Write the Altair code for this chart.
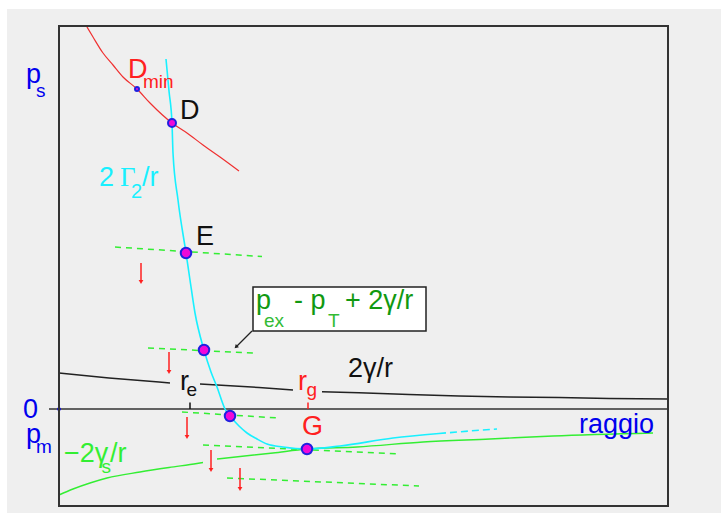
import altair as alt
import pandas as pd

# ---- scale extents (raggio on x, pressure on y; 0 = reference pressure) ----
R_MIN, R_MAX = 0.0, 6.09
P_MIN, P_MAX = -0.97, 3.83

# red curve through D_min and D
red_r = [0.28, 0.34, 0.44, 0.54, 0.64, 0.78, 0.91, 1.13, 1.28, 1.44, 1.61, 1.80]
red_p = [3.82, 3.72, 3.56, 3.44, 3.32, 3.20, 3.06, 2.86, 2.76, 2.64, 2.52, 2.38]

# cyan curve 2 Gamma_2 / r (solid part, then dashed tail)
cyan_r = [1.07, 1.10, 1.13, 1.14, 1.19, 1.27, 1.31, 1.36, 1.45, 1.52, 1.58, 1.66,
          1.71, 1.80, 1.88, 1.98, 2.08, 2.24, 2.48, 2.81, 3.34, 3.80]
cyan_p = [3.50, 3.18, 2.86, 2.56, 2.09, 1.56, 1.29, 0.96, 0.59, 0.37, 0.22, 0.00,
          -0.07, -0.17, -0.24, -0.30, -0.35, -0.38, -0.40, -0.37, -0.29, -0.245]
cyan_tail_r = [3.80, 4.10, 4.38]
cyan_tail_p = [-0.245, -0.22, -0.20]

# black curve 2 gamma / r, interrupted by the r_e and r_g labels
black_r = [0.00, 0.50, 1.00, 1.11, 1.41, 2.00, 2.34, 2.63, 3.00, 3.50, 4.00, 4.50, 5.00, 5.50, 6.09]
black_p = [0.36, 0.31, 0.27, 0.26, 0.25, 0.215, 0.19, 0.173, 0.162, 0.145, 0.13, 0.12, 0.115, 0.105, 0.10]
black_seg = [0, 0, 0, 0, 1, 1, 1, 2, 2, 2, 2, 2, 2, 2, 2]

# green curve -2 gamma_s / r
green_r = [0.00, 0.14, 0.31, 0.48, 0.81, 1.10, 1.38, 1.44,
           1.58, 2.14, 2.48, 2.98, 3.64, 4.31, 4.94, 5.94]
green_p = [-0.86, -0.80, -0.74, -0.69, -0.63, -0.585, -0.545, -0.535,
           -0.50, -0.44, -0.40, -0.38, -0.33, -0.30, -0.27, -0.24]
green_seg = [0, 0, 0, 0, 0, 0, 0, 0, 1, 1, 1, 1, 1, 1, 1, 1]

# dashed green levels p_ex - p_T + 2 gamma / r
lvl_r0 = [0.56, 0.89, 1.23, 1.44, 1.68]
lvl_p0 = [1.62, 0.61, -0.03, -0.36, -0.69]
lvl_r1 = [2.03, 1.94, 2.19, 3.41, 3.60]
lvl_p1 = [1.525, 0.56, -0.09, -0.45, -0.77]

# red downward arrows
arrow_r = [0.82, 1.10, 1.28, 1.52, 1.81]
arrow_top = [1.46, 0.57, -0.08, -0.41, -0.59]
arrow_bot = [1.24, 0.34, -0.31, -0.64, -0.83]

# marked states
pt_name = ["Dmin", "D", "E", "F", "zero", "G"]
pt_r = [0.78, 1.13, 1.27, 1.45, 1.71, 2.48]
pt_p = [3.20, 2.86, 1.56, 0.59, -0.07, -0.40]
pt_size = [16, 64, 110, 110, 110, 110]

# r_e and r_g ticks on the zero line
tick_r = [1.31, 2.49]
tick_color = ["#111111", "#ff2020"]

# zero line and annotation box
zero_r = [-0.10, 6.09]
box_r = [1.94, 3.67]
box_p = [1.22, 0.78]
pointer_r = [1.93, 1.77]
pointer_p = [0.78, 0.62]

# labels: text, r, p, colour, font size
sans_labels = [
    ("D", 0.69, 3.31, "#ff2020", 27), ("min", 0.84, 3.21, "#ff2020", 19),
    ("D", 1.21, 2.90, "#111111", 27),
    ("E", 1.37, 1.64, "#111111", 27),
    ("2", 0.40, 2.23, "#18f0ff", 27), ("2", 0.72, 2.11, "#18f0ff", 20),
    ("/r", 0.83, 2.23, "#18f0ff", 27),
    ("p", 1.97, 1.00, "#119911", 27), ("ex", 2.05, 0.82, "#33bb33", 19),
    ("- p", 2.35, 1.00, "#119911", 27), ("T", 2.69, 0.82, "#33bb33", 19),
    ("+ 2γ/r", 2.86, 1.00, "#119911", 27),
    ("2γ/r", 2.89, 0.32, "#111111", 27),
    ("r", 1.21, 0.19, "#111111", 27), ("e", 1.275, 0.13, "#111111", 19),
    ("r", 2.39, 0.19, "#ff2020", 27), ("g", 2.475, 0.13, "#ff2020", 19),
    ("G", 2.43, -0.26, "#ff2020", 27),
    ("\u22122γ", 0.05, -0.53, "#33ee33", 27), ("s", 0.425, -0.64, "#33ee33", 19),
    ("/r", 0.51, -0.53, "#33ee33", 27),
    ("raggio", 5.20, -0.24, "#0000ee", 27),
    ("p", -0.33, 3.26, "#0000ee", 27), ("s", -0.23, 3.12, "#0000ee", 19),
    ("0", -0.36, -0.09, "#0000ee", 27),
    ("p", -0.33, -0.34, "#0000ee", 27), ("m", -0.23, -0.44, "#0000ee", 19),
]
serif_labels = [("Γ", 0.61, 2.23, "#18f0ff", 27)]

PLOT_W, PLOT_H = 609, 480


def X(field):
    return alt.X(field, type="quantitative", axis=None,
                 scale=alt.Scale(domain=[R_MIN, R_MAX], nice=False, zero=False))


def Y(field):
    return alt.Y(field, type="quantitative", axis=None,
                 scale=alt.Scale(domain=[P_MIN, P_MAX], nice=False, zero=False))


one_row = alt.Data(values=[{}])

panel = alt.Chart(one_row).mark_rect(color="#efefef").encode(
    x=alt.value(-52), x2=alt.value(PLOT_W + 53), y=alt.value(-17), y2=alt.value(PLOT_H + 7)
)

frame = alt.Chart(one_row).mark_rect(filled=False, stroke="#333333", strokeWidth=2).encode(
    x=alt.value(0), x2=alt.value(PLOT_W), y=alt.value(0), y2=alt.value(PLOT_H)
)

zero_df = pd.DataFrame({"r0": [zero_r[0]], "r1": [zero_r[1]], "p": [0.0]})
zero_line = alt.Chart(zero_df).mark_rule(color="#333333", strokeWidth=1.5).encode(
    x=X("r0"), x2="r1", y=Y("p")
)
origin = alt.Chart(pd.DataFrame({"r": [0.0], "p": [0.0]})).mark_point(
    shape="circle", filled=True, color="#0000ee", size=14, opacity=1
).encode(x=X("r"), y=Y("p"))

tick_df = pd.DataFrame({"r": tick_r, "p0": [0.0, 0.0], "p1": [0.065, 0.065], "c": tick_color})
ticks = alt.Chart(tick_df).mark_rule(strokeWidth=1.5).encode(
    x=X("r"), y=Y("p0"), y2="p1", color=alt.Color("c:N", scale=None)
)

black_df = pd.DataFrame({"r": black_r, "p": black_p, "seg": black_seg})
black_line = alt.Chart(black_df).mark_line(color="#222222", strokeWidth=1.4).encode(
    x=X("r"), y=Y("p"), detail="seg:N", order="r:Q"
)

green_df = pd.DataFrame({"r": green_r, "p": green_p, "seg": green_seg})
green_line = alt.Chart(green_df).mark_line(
    color="#33ee33", strokeWidth=1.4, interpolate="monotone"
).encode(x=X("r"), y=Y("p"), detail="seg:N", order="r:Q")

lvl_df = pd.DataFrame({"r0": lvl_r0, "p0": lvl_p0, "r1": lvl_r1, "p1": lvl_p1})
levels = alt.Chart(lvl_df).mark_rule(color="#33ee33", strokeWidth=1.5, strokeDash=[6, 5]).encode(
    x=X("r0"), y=Y("p0"), x2="r1", y2="p1"
)

red_df = pd.DataFrame({"r": red_r, "p": red_p})
red_line = alt.Chart(red_df).mark_line(
    color="#f03030", strokeWidth=1.2, interpolate="monotone"
).encode(x=X("r"), y=Y("p"), order="r:Q")

cyan_df = pd.DataFrame({"r": cyan_r, "p": cyan_p})
cyan_line = alt.Chart(cyan_df).mark_line(
    color="#18f0ff", strokeWidth=1.6, interpolate="monotone"
).encode(x=X("r"), y=Y("p"), order="r:Q")
cyan_tail_df = pd.DataFrame({"r": cyan_tail_r, "p": cyan_tail_p})
cyan_tail = alt.Chart(cyan_tail_df).mark_line(
    color="#18f0ff", strokeWidth=1.6, strokeDash=[7, 4]
).encode(x=X("r"), y=Y("p"), order="r:Q")

arrow_df = pd.DataFrame({"r": arrow_r, "top": arrow_top, "bot": arrow_bot})
arrow_df["head"] = arrow_df["bot"] + 0.03
arrow_shafts = alt.Chart(arrow_df).mark_rule(color="#ff2020", strokeWidth=1.5).encode(
    x=X("r"), y=Y("top"), y2="head"
)
arrow_heads = alt.Chart(arrow_df).mark_point(
    shape="triangle-down", filled=True, color="#ff2020", size=22, opacity=1
).encode(x=X("r"), y=Y("head"))

box_df = pd.DataFrame({"r0": [box_r[0]], "r1": [box_r[1]], "p0": [box_p[0]], "p1": [box_p[1]]})
box = alt.Chart(box_df).mark_rect(fill="white", stroke="#222222", strokeWidth=1.5).encode(
    x=X("r0"), x2="r1", y=Y("p0"), y2="p1"
)
ptr_df = pd.DataFrame({"r0": [pointer_r[0]], "p0": [pointer_p[0]],
                       "r1": [pointer_r[1]], "p1": [pointer_p[1]]})
pointer = alt.Chart(ptr_df).mark_rule(color="#222222", strokeWidth=1.2).encode(
    x=X("r0"), y=Y("p0"), x2="r1", y2="p1"
)
pointer_head = alt.Chart(ptr_df).mark_point(
    shape="triangle-up", filled=True, color="#222222", size=20, angle=225, opacity=1
).encode(x=X("r1"), y=Y("p1"))

pts_df = pd.DataFrame({"name": pt_name, "r": pt_r, "p": pt_p, "s": pt_size})
points = alt.Chart(pts_df).mark_point(
    shape="circle", filled=True, fill="#f008d8", stroke="#2020e0", strokeWidth=2, opacity=1
).encode(x=X("r"), y=Y("p"), size=alt.Size("s:Q", scale=None, legend=None))


def text_layer(rows, font):
    df = pd.DataFrame(rows, columns=["t", "r", "p", "c", "fs"])
    return alt.Chart(df).mark_text(align="left", baseline="alphabetic", font=font).encode(
        x=X("r"), y=Y("p"), text="t:N",
        color=alt.Color("c:N", scale=None),
        size=alt.Size("fs:Q", scale=None, legend=None),
    )


chart = alt.layer(
    panel,
    zero_line, origin, ticks,
    black_line, green_line, levels, red_line, cyan_line, cyan_tail,
    arrow_shafts, arrow_heads,
    box, pointer, pointer_head,
    points,
    text_layer(sans_labels, "Liberation Sans"),
    text_layer(serif_labels, "Liberation Serif"),
    frame,
).properties(
    width=PLOT_W, height=PLOT_H,
    padding={"left": 59, "top": 26, "right": 53, "bottom": 7},
    autosize=alt.AutoSizeParams(type="none"),
    background="white",
).configure_view(stroke=None, fill=None)

chart.save("out.html", embed_options={"renderer": "svg", "actions": False})
